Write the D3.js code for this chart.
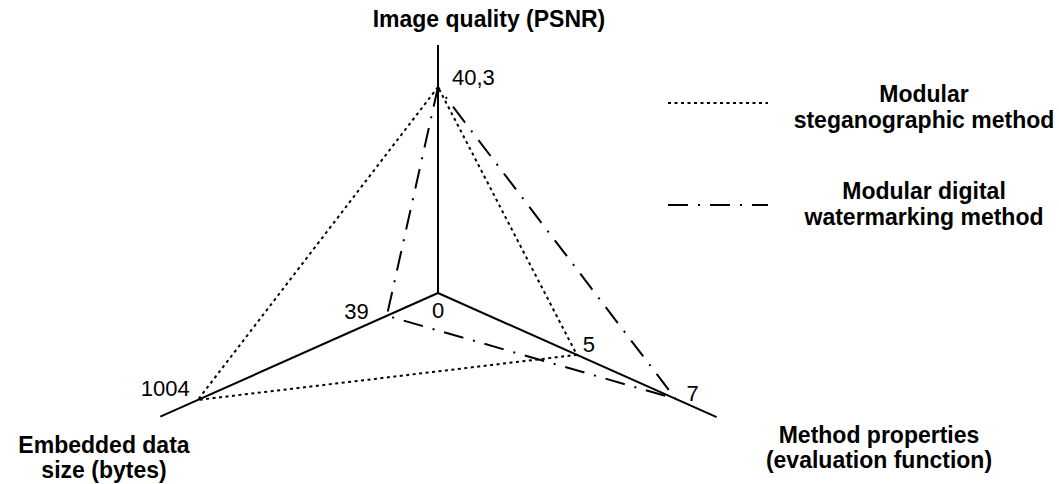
<!DOCTYPE html>
<html>
<head>
<meta charset="utf-8">
<script src="https://cdn.jsdelivr.net/npm/d3@7"></script>
<style>
  body { margin: 0; background: #fff; }
  text { font-family: "Liberation Sans", Arial, sans-serif; fill: #000; }
  .axis-title { font-weight: bold; font-size: 23px; }
  .value { font-size: 22px; }
</style>
</head>
<body>
<div id="chart"></div>
<script>
// Data
const axisNames = [
  ["Image quality (PSNR)"],
  ["Embedded data", "size (bytes)"],
  ["Method properties", "(evaluation function)"]
];
const stegoValues = [40.3, 1004, 5];
const watermarkValues = [40.3, 39, 7];
const seriesNames = [
  ["Modular", "steganographic method"],
  ["Modular digital", "watermarking method"]
];

const width = 1059;
const height = 484;
const origin = { x: 438, y: 293 };

const svg = d3.select("#chart")
  .append("svg")
  .attr("width", width)
  .attr("height", height);

// Axis angles (degrees, clockwise from +x)
const angles = [-90, 156, 24].map(a => a * Math.PI / 180);
const axisLength = [248, 304, 305];

// Radial scales (schematic, not proportional across values)
const rScales = [
  d3.scaleLinear().domain([0, 40.3]).range([0, 206]),
  d3.scaleLinear().domain([0, 39, 1004]).range([0, 56, 263]),
  d3.scaleLinear().domain([0, 5, 7]).range([0, 152, 260])
];

function point(i, v) {
  const r = rScales[i](v);
  return [origin.x + r * Math.cos(angles[i]), origin.y + r * Math.sin(angles[i])];
}

const fmt = d3.formatLocale({ decimal: ",", thousands: "", grouping: [3], currency: ["", ""] }).format("~g");

// Axes
svg.selectAll(".axis")
  .data(angles)
  .enter()
  .append("line")
  .attr("class", "axis")
  .attr("x1", origin.x)
  .attr("y1", origin.y)
  .attr("x2", (a, i) => origin.x + axisLength[i] * Math.cos(a))
  .attr("y2", (a, i) => origin.y + axisLength[i] * Math.sin(a))
  .attr("stroke", "#000")
  .attr("stroke-width", 2);

// Series polygons
const styles = ["3,3.5", "20,10,2,10"];
const line = d3.line().curve(d3.curveLinearClosed);

[stegoValues, watermarkValues].forEach((vals, s) => {
  svg.append("path")
    .attr("d", line(vals.map((v, i) => point(i, v))))
    .attr("fill", "none")
    .attr("stroke", "#000")
    .attr("stroke-width", 2)
    .attr("stroke-dasharray", styles[s]);
});

// Value labels
const labelOffsets = [
  [[14, -2, "start"], [-8, -4, "end"], [6, -3, "start"]],
  [null, [-18, 3, "end"], [11, 2, "start"]]
];
[stegoValues, watermarkValues].forEach((vals, s) => {
  vals.forEach((v, i) => {
    const off = labelOffsets[s][i];
    if (!off) return;
    const p = point(i, v);
    svg.append("text")
      .attr("class", "value")
      .attr("x", p[0] + off[0])
      .attr("y", p[1] + off[1])
      .attr("text-anchor", off[2])
      .text(fmt(v));
  });
});

// Zero at origin
svg.append("text")
  .attr("class", "value")
  .attr("x", origin.x)
  .attr("y", origin.y + 25)
  .attr("text-anchor", "middle")
  .text("0");

// Axis titles
const titlePos = [
  { x: 489, y: 27 },
  { x: 104, y: 453 },
  { x: 879, y: 443 }
];
axisNames.forEach((lines, i) => {
  const t = svg.append("text")
    .attr("class", "axis-title")
    .attr("text-anchor", "middle")
    .attr("x", titlePos[i].x)
    .attr("y", titlePos[i].y);
  lines.forEach((l, j) => {
    t.append("tspan")
      .attr("x", titlePos[i].x)
      .attr("dy", j === 0 ? 0 : 25)
      .text(l);
  });
});

// Legend
const legendY = [103, 205];
const legendTextY = [102, 199];
seriesNames.forEach((lines, s) => {
  svg.append("line")
    .attr("x1", 668)
    .attr("x2", 768)
    .attr("y1", legendY[s])
    .attr("y2", legendY[s])
    .attr("stroke", "#000")
    .attr("stroke-width", 2)
    .attr("stroke-dasharray", styles[s]);
  const t = svg.append("text")
    .attr("class", "axis-title")
    .attr("text-anchor", "middle")
    .attr("x", 924)
    .attr("y", legendTextY[s]);
  lines.forEach((l, j) => {
    t.append("tspan")
      .attr("x", 924)
      .attr("dy", j === 0 ? 0 : 26)
      .text(l);
  });
});
</script>
</body>
</html>
